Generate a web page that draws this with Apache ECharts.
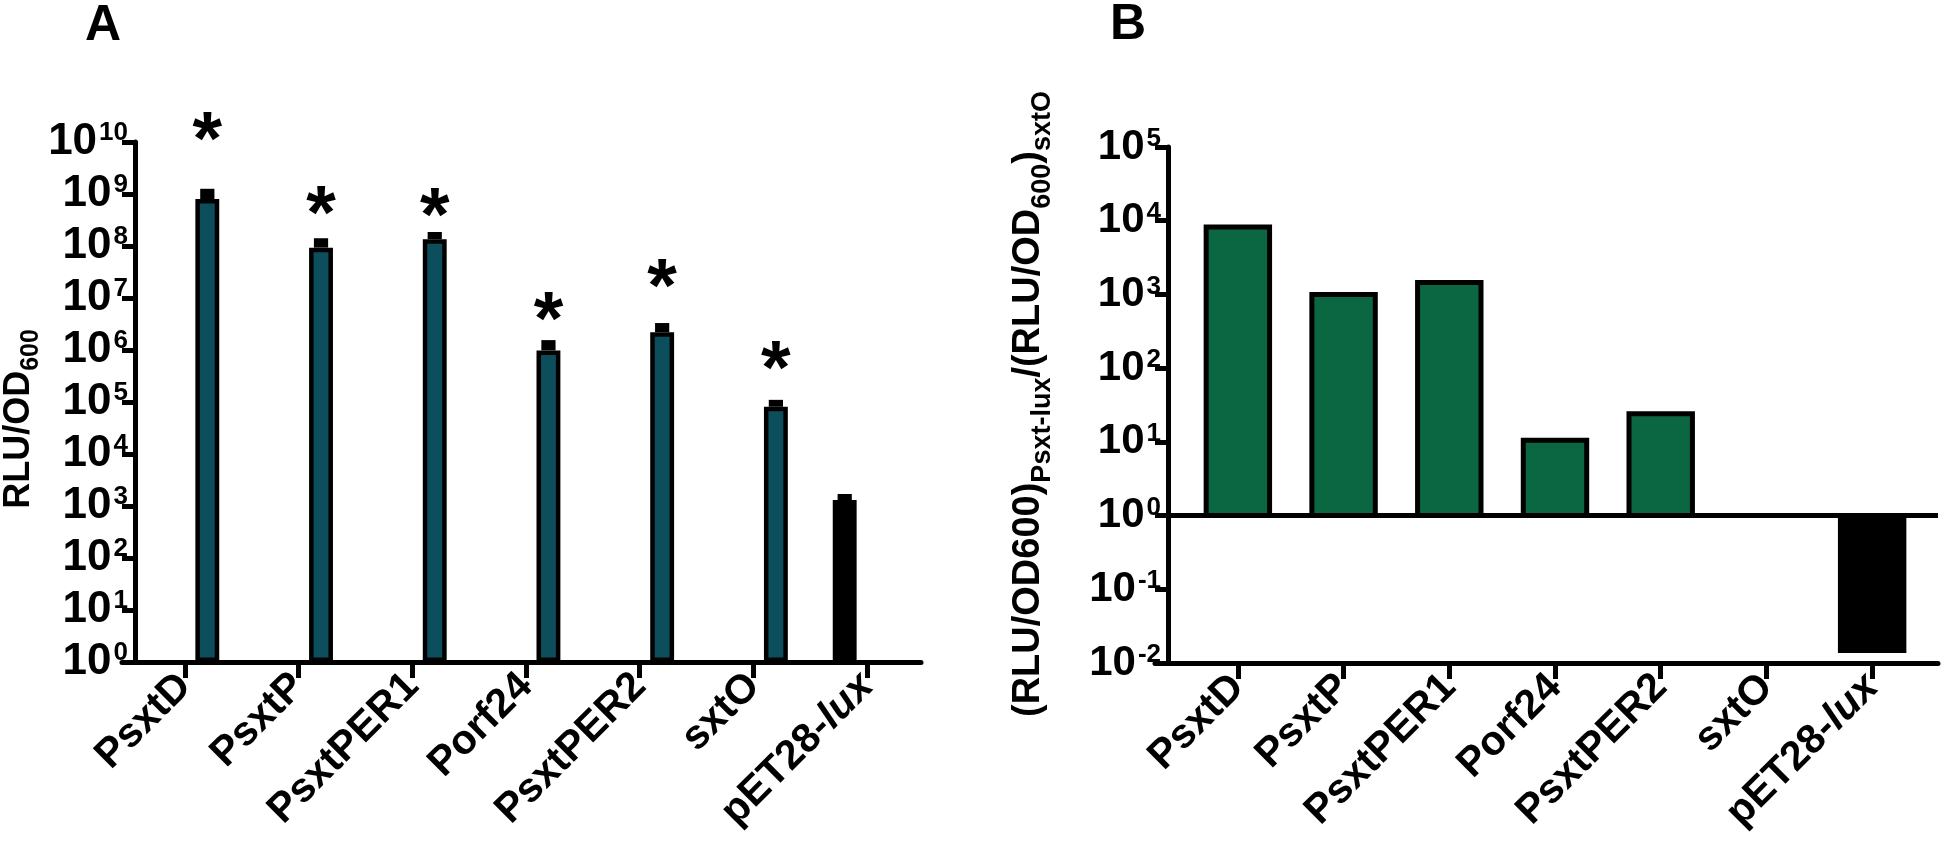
<!DOCTYPE html>
<html><head><meta charset="utf-8">
<script src="https://cdn.jsdelivr.net/npm/echarts@6/dist/echarts.min.js"></script>
<style>html,body{margin:0;padding:0;background:#fff}#c{width:1946px;height:846px}</style>
</head><body><div id="c"></div>
<script>
// ---------- data ----------
const categories = ['PsxtD', 'PsxtP', 'PsxtPER1', 'Porf24', 'PsxtPER2', 'sxtO', 'pET28-lux'];
const isControl = [false, false, false, false, false, false, true];
// Panel A: RLU/OD600 (mean and upper SD)
const rluMean = [8.0e8, 9.3e7, 1.35e8, 9.8e5, 2.2e6, 8.1e4, 1.3e3];
const rluSd = [4.6e8, 4.8e7, 5.1e7, 5.7e5, 1.1e6, 2.9e4, 4.0e2];
// Panel A: height of the significance asterisks (null = none)
const asteriskLevel = [1.86e10, 7.1e8, 6.5e8, 6.5e6, 2.75e7, 7.4e5, null];
// Panel B: fold change relative to sxtO
const foldChange = [8.2e3, 1.0e3, 1.45e3, 10.5, 24, 1, 0.0148];
const baselineRatio = 1;
// axis ranges (decades)
const panelARange = [1, 1e10];
const panelBRange = [1e-2, 1e5];

// ---------- styling ----------
const FONT = "'Liberation Sans', Arial, Helvetica, sans-serif";
const TEAL = '#0d4e5d';
const GREEN = '#0b6642';
const AXW = 5;
const STAR_SIZE = 76;

function supLabel(bSize, sSize) {
  return {
    formatter: v => '{b|10}{s|' + Math.round(Math.log10(v)) + '}',
    rich: {
      b: {fontFamily: FONT, fontWeight: 'bold', fontSize: bSize, lineHeight: bSize, color: '#000', verticalAlign: 'top'},
      s: {fontFamily: FONT, fontWeight: 'bold', fontSize: sSize, lineHeight: sSize, color: '#000', verticalAlign: 'top', padding: [0, 0, 0, 2]}
    }
  };
}
function catLabel(size) {
  return {
    interval: 0, rotate: 45, margin: 18,
    formatter: v => v === 'pET28-lux' ? '{n|pET28-}{i|lux}' : '{n|' + v + '}',
    rich: {
      n: {fontFamily: FONT, fontWeight: 'bold', fontSize: size, color: '#000'},
      i: {fontFamily: FONT, fontWeight: 'bold', fontStyle: 'italic', fontSize: size, color: '#000'}
    }
  };
}
const frameX = (gi) => ({
  type: 'value', gridIndex: gi, min: 0, max: 1, show: true,
  axisLine: {show: true, onZero: false, lineStyle: {color: '#000', width: AXW}},
  axisTick: {show: false}, axisLabel: {show: false}, splitLine: {show: false}
});
const frameY = (gi, range, bSize, sSize) => Object.assign({
  type: 'log', logBase: 10, gridIndex: gi, min: range[0], max: range[1], interval: 1, offset: -13,
  axisLine: {show: true, onZero: false, lineStyle: {color: '#000', width: AXW}},
  axisTick: {show: true, length: 13, lineStyle: {color: '#000', width: AXW}},
  splitLine: {show: false}, minorTick: {show: false}
}, {axisLabel: Object.assign({margin: 7, showMinLabel: true, showMaxLabel: true}, supLabel(bSize, sSize))});
const dataX = (gi, size) => ({
  type: 'category', gridIndex: gi, data: categories, boundaryGap: true,
  axisLine: {show: false},
  axisTick: {show: true, alignWithLabel: true, length: 16, lineStyle: {color: '#000', width: AXW}},
  axisLabel: catLabel(size), splitLine: {show: false}
});
const dataY = (gi, range) => ({
  type: 'log', logBase: 10, gridIndex: gi, min: range[0], max: range[1], show: false, splitLine: {show: false}
});

// ---------- panel A series ----------
const A_BAR_FRAC = 0.21, A_GAP = '88%';
const A_OFFSET = (A_BAR_FRAC * (1 + 0.88)) / 2;
const A_ERR_FRAC = 0.125;
const controlSeriesA = rluMean.map((v, i) => isControl[i] ? v : '-');
const testSeriesA = rluMean.map((v, i) => isControl[i] ? '-' : v);
const errData = rluMean.map((v, i) => [i, v, rluSd[i], isControl[i] ? -1 : 1]);
const starData = asteriskLevel.map((v, i) => v == null ? null : [i, v, isControl[i] ? -1 : 1]).filter(d => d);

// ---------- panel B series ----------
const bRatioData = foldChange.map((v, i) => isControl[i] ? null : [i, v]).filter(d => d);
const bControlData = foldChange.map((v, i) => isControl[i] ? [i, v] : null).filter(d => d);
function ratioBar(color) {
  return function (params, api) {
    const cat = api.value(0), v = api.value(1);
    const p0 = api.coord([cat, baselineRatio]);
    const p1 = api.coord([cat, v]);
    const w = 0.6 * api.size([1, 1])[0];
    return {type: 'rect', shape: {x: p0[0] - w / 2, y: Math.min(p0[1], p1[1]), width: w, height: Math.abs(p1[1] - p0[1])},
      style: {fill: color, stroke: '#000', lineWidth: 5}};
  };
}

const chart = echarts.init(document.getElementById('c'), null, {renderer: 'canvas'});
chart.setOption({
  backgroundColor: '#fff',
  animation: false,
  grid: [
    {left: 122, top: 142, width: 799, height: 520, outerBoundsMode: 'none'},
    {left: 128, top: 142, width: 796, height: 520, outerBoundsMode: 'none'},
    {left: 1155, top: 147, width: 783, height: 516, outerBoundsMode: 'none'},
    {left: 1185, top: 147, width: 740, height: 516, outerBoundsMode: 'none'}
  ],
  xAxis: [frameX(0), dataX(1, 41), frameX(2), dataX(3, 41)],
  yAxis: [frameY(0, panelARange, 44, 26), dataY(1, panelARange), frameY(2, panelBRange, 42, 26), dataY(3, panelBRange)],
  graphic: [
    {type: 'text', x: 103, y: 26, style: {text: 'A', fontFamily: FONT, fontWeight: 'bold', fontSize: 50, fill: '#000', align: 'center', verticalAlign: 'middle'}},
    {type: 'text', x: 1128, y: 25, style: {text: 'B', fontFamily: FONT, fontWeight: 'bold', fontSize: 50, fill: '#000', align: 'center', verticalAlign: 'middle'}},
    {type: 'text', x: 20, y: 419, rotation: Math.PI / 2,
      style: {text: '{m|RLU/OD}{s|600}', align: 'center', verticalAlign: 'middle',
        rich: {m: {fontFamily: FONT, fontWeight: 'bold', fontSize: 36, lineHeight: 38, verticalAlign: 'top', fill: '#000'},
               s: {fontFamily: FONT, fontWeight: 'bold', fontSize: 25, lineHeight: 26, verticalAlign: 'top', padding: [18, 0, 0, 0], fill: '#000'}}}},
    {type: 'text', x: 1030, y: 404, rotation: Math.PI / 2,
      style: {text: '{m|(RLU/OD600)}{s|Psxt-lux}{m|/(RLU/OD}{s|600}{m|)}{s|sxtO}', align: 'center', verticalAlign: 'middle',
        rich: {m: {fontFamily: FONT, fontWeight: 'bold', fontSize: 38, lineHeight: 40, verticalAlign: 'top', fill: '#000'},
               s: {fontFamily: FONT, fontWeight: 'bold', fontSize: 27, lineHeight: 28, verticalAlign: 'top', padding: [19, 0, 0, 0], fill: '#000'}}}}
  ],
  series: [
    // panel A bars
    {name: 'control', type: 'bar', xAxisIndex: 1, yAxisIndex: 1, data: controlSeriesA, barWidth: (A_BAR_FRAC * 100) + '%', barGap: A_GAP,
      itemStyle: {color: '#000', borderColor: '#000', borderWidth: 4.5}, z: 3},
    {name: 'promoters', type: 'bar', xAxisIndex: 1, yAxisIndex: 1, data: testSeriesA, barWidth: (A_BAR_FRAC * 100) + '%', barGap: A_GAP,
      itemStyle: {color: TEAL, borderColor: '#000', borderWidth: 4.5}, z: 3},
    // panel A error bars
    {type: 'custom', xAxisIndex: 1, yAxisIndex: 1, data: errData, z: 4,
      renderItem: function (params, api) {
        const cat = api.value(0), m = api.value(1), sd = api.value(2), side = api.value(3);
        const catW = api.size([1, 1])[0];
        const b = api.coord([cat, m]), t = api.coord([cat, m + sd]);
        const cx = b[0] + side * A_OFFSET * catW;
        const w = A_ERR_FRAC * catW;
        return {type: 'rect', shape: {x: cx - w / 2, y: t[1], width: w, height: b[1] - t[1]}, style: {fill: '#000'}};
      }},
    // panel A asterisks
    {type: 'custom', xAxisIndex: 1, yAxisIndex: 1, data: starData, z: 5, clip: false,
      renderItem: function (params, api) {
        const cat = api.value(0), lv = api.value(1), side = api.value(2);
        const catW = api.size([1, 1])[0];
        const p = api.coord([cat, lv]);
        return {type: 'text', x: p[0] + side * A_OFFSET * catW, y: p[1] + 0.2 * STAR_SIZE,
          style: {text: '*', fontFamily: FONT, fontWeight: 'bold', fontSize: STAR_SIZE, fill: '#000', align: 'center', verticalAlign: 'middle'}};
      }},
    // panel B baseline at ratio 1
    {type: 'line', xAxisIndex: 2, yAxisIndex: 2, data: [], z: 2,
      markLine: {silent: true, symbol: ['none', 'none'], label: {show: false},
        lineStyle: {color: '#000', width: 5, type: 'solid'}, data: [{yAxis: baselineRatio}]}},
    // panel B bars
    {type: 'custom', xAxisIndex: 3, yAxisIndex: 3, data: bRatioData, renderItem: ratioBar(GREEN), z: 3},
    {type: 'custom', xAxisIndex: 3, yAxisIndex: 3, data: bControlData, renderItem: ratioBar('#000'), z: 3}
  ]
});
</script>
</body></html>
